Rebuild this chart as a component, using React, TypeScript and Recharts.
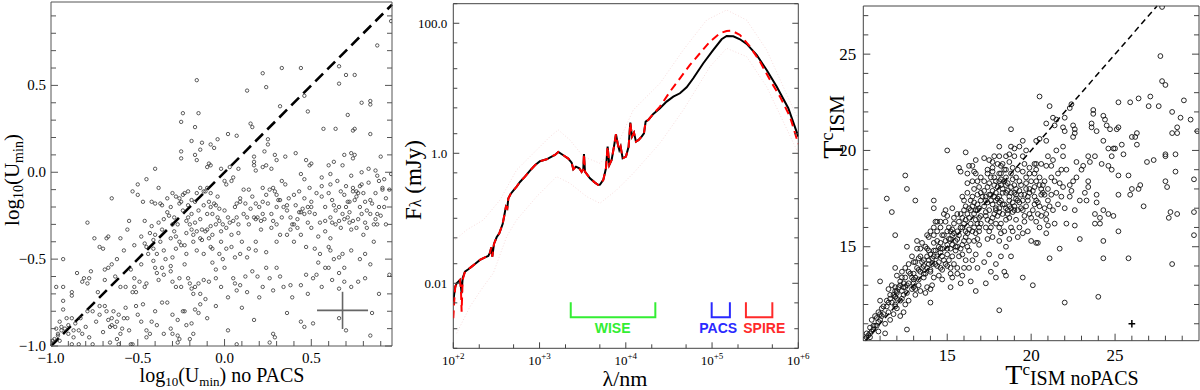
import React from 'react';
import { ScatterChart, ComposedChart, Scatter, XAxis, YAxis, ReferenceLine, ReferenceDot } from 'recharts';

const SERIF = '"Liberation Serif", "Times New Roman", Times, serif';
const SANS = '"Liberation Sans", Arial, Helvetica, sans-serif';

/* ---------------- left panel: log10(Umin) ---------------- */
const uminTicks = [-1, -0.9, -0.8, -0.7, -0.6, -0.5, -0.4, -0.3, -0.2, -0.1, 0, 0.1, 0.2, 0.3, 0.4, 0.5, 0.6, 0.7, 0.8, 0.9];
const uminMajor = [-1, -0.5, 0, 0.5];
const uminDomain = [-1, 0.965];
const uminDomainY = [-1, 0.98];
const uminErr = [0.68, -0.795, 0.147, 0.107];

const uminHigh: [number, number][] = [
  [0.96, 0.87], [0.88, 0.73], [0.84, 0.41], [0.84, 0.39], [0.79, 0.40], [0.66, 0.61], [0.70, 0.56], [0.75, 0.56], [0.66, 0.51],
  [0.44, 0.60], [0.33, 0.60], [0.22, 0.57], [0.24, 0.49], [0.13, 0.47], [-0.16, 0.53], [-0.24, 0.34], [-0.25, 0.29], [-0.15, 0.34],
  [-0.17, 0.26], [0.48, 0.35], [0.46, 0.44], [0.32, 0.38], [0.15, 0.28], [0.16, 0.26], [0.57, 0.25], [0.64, 0.25], [0.71, 0.33],
  [0.75, 0.25], [0.74, 0.24], [0.84, 0.22], [0.90, 0.09], [-0.19, 0.18], [-0.13, 0.17], [-0.08, 0.16], [-0.04, 0.19], [-0.06, 0.14],
  [0.02, 0.22], [0.07, 0.21], [0.17, 0.09], [0.17, 0.06], [0.25, 0.19], [0.25, 0.16], [0.23, 0.12], [0.30, 0.07], [0.29, 0.10],
  [0.35, 0.09], [0.41, 0.11], [-0.25, 0.08], [-0.25, 0.12], [-0.14, 0.13], [-0.17, 0.10], [-0.16, 0.07], [-0.40, 0.02], [-0.09, 0.05],
  [-0.08, 0.04], [-0.10, 0.03], [-0.02, 0.02], [0.03, 0.03], [0.08, 0.02], [0.17, 0.04], [0.18, 0.01], [0.22, 0.03], [0.24, 0.04],
  [0.27, 0.02], [0.47, 0.07], [0.49, 0.04], [0.50, 0.05], [0.60, 0.04], [0.63, 0.06], [0.68, 0.04], [0.69, 0.10], [0.73, 0.11],
  [0.74, 0.08], [0.75, 0.10], [0.79, 0.0], [0.83, 0.02], [0.87, 0.01], [0.96, -0.01],
];

const uminMid: [number, number][] = [
  [-0.45, -0.04], [-0.50, -0.07], [-0.38, -0.09], [-0.65, -0.15], [-0.53, -0.11], [-0.50, -0.13], [-0.47, -0.17], [-0.42, -0.17],
  [-0.40, -0.18], [-0.37, -0.18], [-0.36, -0.19], [-0.30, -0.12], [-0.28, -0.14], [-0.26, -0.15], [-0.24, -0.13], [-0.23, -0.12],
  [-0.25, -0.17], [-0.21, -0.11], [-0.19, -0.16], [-0.17, -0.17], [-0.16, -0.12], [-0.14, -0.09], [-0.12, -0.11], [-0.11, -0.11],
  [-0.10, -0.09], [-0.09, -0.17], [-0.08, -0.12], [-0.06, -0.18], [-0.05, -0.19], [-0.03, -0.21], [0.00, -0.05], [0.01, -0.07],
  [0.04, -0.05], [0.05, -0.03], [0.07, -0.18], [0.09, -0.15], [0.09, -0.17], [0.11, -0.10], [0.14, -0.10], [0.18, -0.18],
  [0.22, -0.09], [0.22, -0.17], [0.24, -0.13], [0.26, -0.10], [0.28, -0.09], [0.29, -0.11], [0.31, -0.16], [0.32, -0.16],
  [0.33, -0.05], [0.35, -0.07], [0.36, -0.19], [0.40, -0.13], [0.43, -0.11], [0.44, -0.01], [0.46, -0.04], [0.49, -0.09],
  [0.50, -0.17], [0.56, -0.03], [0.56, -0.08], [0.61, -0.01], [0.61, -0.07], [0.63, -0.19], [0.67, -0.11], [0.69, -0.13],
  [0.71, -0.17], [0.72, -0.17], [0.73, -0.02], [0.74, -0.11], [0.74, -0.09], [0.76, -0.11], [0.76, -0.14], [0.77, -0.12],
  [0.78, -0.08], [0.79, -0.07], [0.81, -0.17], [0.84, -0.16], [0.88, -0.02], [0.89, -0.05], [0.91, -0.09], [0.91, -0.10],
  [0.93, -0.15], [0.95, -0.10],
  [-0.79, -0.29], [-0.75, -0.38], [-0.68, -0.38], [-0.67, -0.37], [-0.70, -0.44], [-0.72, -0.43], [-0.56, -0.33], [-0.55, -0.28],
  [-0.46, -0.28], [-0.43, -0.35], [-0.41, -0.39], [-0.38, -0.29], [-0.36, -0.33], [-0.40, -0.36], [-0.46, -0.41], [-0.45, -0.43],
  [-0.41, -0.44], [-0.35, -0.45], [-0.33, -0.23], [-0.32, -0.25], [-0.30, -0.30], [-0.29, -0.34], [-0.28, -0.37], [-0.26, -0.40],
  [-0.25, -0.42], [-0.23, -0.42], [-0.22, -0.28], [-0.21, -0.26], [-0.19, -0.33], [-0.18, -0.36], [-0.16, -0.34], [-0.14, -0.38],
  [-0.13, -0.39], [-0.11, -0.34], [-0.10, -0.33], [-0.08, -0.31], [-0.07, -0.24], [-0.04, -0.26], [-0.02, -0.34], [-0.01, -0.30],
  [0.01, -0.32], [0.03, -0.29], [0.05, -0.28], [0.07, -0.26], [0.08, -0.30], [0.11, -0.24], [0.13, -0.26], [0.15, -0.21],
  [0.17, -0.26], [0.18, -0.27], [0.19, -0.26], [0.21, -0.28], [0.22, -0.24], [0.23, -0.27], [0.27, -0.24], [0.28, -0.28],
  [0.30, -0.20], [0.30, -0.30], [0.32, -0.36], [0.36, -0.22], [0.38, -0.26], [0.39, -0.30], [0.40, -0.30], [0.43, -0.23],
  [0.44, -0.23], [0.45, -0.21], [0.46, -0.24], [0.48, -0.29], [0.49, -0.23], [0.50, -0.20], [0.52, -0.24], [0.55, -0.29],
  [0.58, -0.28], [0.58, -0.34], [0.61, -0.26], [0.62, -0.29], [0.64, -0.22], [0.66, -0.28], [0.67, -0.32], [0.69, -0.27],
  [0.71, -0.26], [0.72, -0.29], [0.74, -0.28], [0.76, -0.32], [0.79, -0.24], [0.81, -0.29], [0.82, -0.32], [0.84, -0.24],
  [0.87, -0.27], [0.88, -0.30], [0.88, -0.24], [0.89, -0.20],
  [-0.08, -0.43], [-0.07, -0.44], [-0.03, -0.47], [0.01, -0.44], [0.04, -0.43], [0.06, -0.49], [0.09, -0.47], [0.13, -0.49],
  [0.14, -0.44], [0.18, -0.40], [0.18, -0.45], [0.24, -0.46], [0.30, -0.40], [0.36, -0.36], [0.40, -0.40], [0.42, -0.32],
  [0.47, -0.43], [0.52, -0.44], [0.55, -0.47], [0.60, -0.43], [0.61, -0.45], [0.61, -0.38], [0.66, -0.49], [0.68, -0.47],
  [0.73, -0.45], [0.78, -0.50], [0.81, -0.47],
];

const uminLow: [number, number][] = [
  [-0.93, -0.50], [-0.93, -0.66], [-0.97, -0.66], [-0.88, -0.69], [-0.88, -0.71], [-0.85, -0.58], [-0.82, -0.63], [-0.81, -0.61],
  [-0.79, -0.64], [-0.77, -0.57], [-0.78, -0.61], [-0.73, -0.69], [-0.69, -0.56], [-0.69, -0.62], [-0.67, -0.55], [-0.65, -0.53],
  [-0.63, -0.60], [-0.60, -0.66], [-0.57, -0.66], [-0.54, -0.56], [-0.52, -0.61], [-0.52, -0.66], [-0.49, -0.63], [-0.48, -0.53],
  [-0.46, -0.66], [-0.45, -0.64], [-0.51, -0.69], [-0.53, -0.69], [-0.41, -0.51], [-0.40, -0.55], [-0.39, -0.58], [-0.38, -0.62],
  [-0.36, -0.55], [-0.35, -0.59], [-0.34, -0.50], [-0.31, -0.54], [-0.31, -0.57], [-0.30, -0.63], [-0.28, -0.66], [-0.26, -0.61],
  [-0.25, -0.66], [-0.23, -0.53], [-0.21, -0.61], [-0.20, -0.64], [-0.19, -0.67], [-0.18, -0.70], [-0.17, -0.66], [-0.15, -0.64],
  [-0.14, -0.70], [-0.12, -0.62], [-0.11, -0.73], [-0.09, -0.63], [-0.07, -0.52], [-0.05, -0.61], [-0.01, -0.50], [0.00, -0.55],
  [0.02, -0.72], [0.05, -0.61], [0.06, -0.64], [0.07, -0.68], [0.09, -0.65], [0.13, -0.69], [0.16, -0.57], [0.19, -0.60],
  [0.24, -0.55], [0.26, -0.61], [0.28, -0.68], [0.30, -0.55], [0.34, -0.66], [0.38, -0.65], [0.39, -0.72], [0.44, -0.65],
  [0.47, -0.59], [0.51, -0.61], [0.53, -0.59], [0.56, -0.66], [0.58, -0.55], [0.60, -0.55], [0.66, -0.58], [0.69, -0.63],
  [0.66, -0.67], [0.73, -0.66], [0.77, -0.63], [0.81, -0.61], [0.84, -0.53], [0.89, -0.70], [0.95, -0.59], [0.63, -0.50],
  [0.69, -0.55],
  [-1.0, -0.98], [-0.99, -0.97], [-0.98, -0.96], [-0.96, -0.94], [-0.96, -0.93], [-0.94, -0.91], [-0.94, -0.89], [-0.92, -0.90],
  [-0.95, -0.97], [-0.93, -0.74], [-0.93, -0.79], [-0.91, -0.84], [-0.90, -0.88], [-0.88, -0.84], [-0.87, -0.91], [-0.87, -0.95],
  [-0.84, -0.91], [-0.84, -0.99], [-0.82, -0.93], [-0.78, -0.95], [-0.79, -0.80], [-0.76, -0.80], [-0.76, -0.99], [-0.72, -0.77],
  [-0.72, -0.82], [-0.69, -0.77], [-0.67, -0.85], [-0.66, -0.89], [-0.65, -0.88], [-0.65, -0.84], [-0.64, -0.80], [-0.63, -0.89],
  [-0.62, -0.96], [-0.61, -0.82], [-0.60, -0.93], [-0.59, -0.90], [-0.58, -0.84], [-0.56, -0.84], [-0.55, -0.91], [-0.54, -0.99],
  [-0.53, -0.99], [-0.51, -0.77], [-0.50, -0.82], [-0.47, -0.76], [-0.45, -0.91], [-0.45, -0.95], [-0.43, -0.93], [-0.42, -0.86],
  [-0.39, -0.88], [-0.36, -0.75], [-0.33, -0.75], [-0.31, -0.90], [-0.30, -0.82], [-0.30, -0.93], [-0.27, -0.94], [-0.26, -0.96],
  [-0.24, -0.80], [-0.23, -0.80], [-0.22, -0.88], [-0.18, -0.93], [-0.19, -0.87], [-0.17, -0.79], [-0.15, -0.81], [-0.14, -0.76],
  [0.02, -0.91], [0.07, -0.99], [0.17, -0.85], [0.26, -0.98], [0.28, -0.93], [0.29, -0.95], [0.36, -0.81], [0.44, -0.86],
  [0.46, -0.89], [0.51, -0.87], [0.66, -0.84], [0.70, -0.91], [0.84, -0.94], [0.85, -0.81], [-0.88, -0.99], [-0.66, -0.98],
  [-0.61, -0.99], [-0.27, -0.98],
];

const uminDense: [number, number][] = [
  [-0.33, -0.15], [-0.31, -0.20], [-0.29, -0.26], [-0.27, -0.30], [-0.26, -0.18], [-0.24, -0.22], [-0.22, -0.35], [-0.21, -0.19],
  [-0.20, -0.30], [-0.19, -0.24], [-0.18, -0.40], [-0.17, -0.29], [-0.15, -0.22], [-0.14, -0.27], [-0.13, -0.33], [-0.12, -0.19],
  [-0.10, -0.24], [-0.09, -0.38], [-0.08, -0.20], [-0.07, -0.36], [-0.05, -0.30], [-0.04, -0.14], [-0.03, -0.28], [-0.02, -0.40],
  [0.00, -0.22], [0.02, -0.26], [0.04, -0.36], [0.06, -0.20], [0.08, -0.35], [0.10, -0.40], [-0.28, -0.44], [-0.31, -0.38],
  [-0.35, -0.27], [-0.37, -0.40], [-0.39, -0.47], [-0.42, -0.31], [-0.44, -0.47], [-0.48, -0.37], [-0.52, -0.42], [-0.58, -0.45],
  [-0.60, -0.38], [-0.62, -0.50], [-0.30, -0.49], [-0.22, -0.47], [-0.12, -0.47], [-0.16, -0.45],
  [0.56, -0.14], [0.58, -0.20], [0.60, -0.12], [0.62, -0.16], [0.64, -0.30], [0.65, -0.05], [0.66, -0.20], [0.68, -0.24],
  [0.70, -0.08], [0.70, -0.20], [0.72, -0.23], [0.73, -0.33], [0.75, -0.16], [0.77, -0.27], [0.78, -0.20], [0.80, -0.12],
  [0.80, -0.36], [0.82, -0.22], [0.83, -0.06], [0.85, -0.18], [0.86, -0.30], [0.87, -0.12], [0.90, -0.25], [0.92, -0.20],
  [0.93, -0.30], [0.86, -0.40], [0.92, -0.04],
  [0.12, -0.18], [0.14, -0.30], [0.16, -0.14], [0.20, -0.20], [0.21, -0.33], [0.25, -0.18], [0.27, -0.32], [0.30, -0.13],
  [0.33, -0.26], [0.34, -0.20], [0.37, -0.15], [0.38, -0.33], [0.41, -0.19], [0.42, -0.27], [0.44, -0.36], [0.46, -0.15],
  [0.48, -0.20], [0.50, -0.32], [0.53, -0.12], [0.54, -0.37],
  [-0.97, -0.90], [-0.95, -0.86], [-0.90, -0.93], [-0.86, -0.87], [-0.83, -0.84], [-0.80, -0.89], [-0.74, -0.86], [-0.70, -0.92],
  [-0.68, -0.80], [-0.62, -0.86], [-0.57, -0.78], [-0.48, -0.86], [-0.40, -0.80], [-0.35, -0.93], [-0.27, -0.85], [-0.20, -0.96],
  [-0.10, -0.84], [-0.05, -0.77], [0.10, -0.78], [0.20, -0.72], [-0.05, -0.56], [-0.02, -0.66], [0.12, -0.60], [0.22, -0.66],
  [0.32, -0.60], [0.48, -0.70], [0.54, -0.52], [0.62, -0.62],
];

/* ---------------- middle panel: SED ---------------- */
const lamTicks = [100, 200, 500, 1e3, 2e3, 5e3, 1e4, 2e4, 5e4, 1e5, 2e5, 5e5, 1e6];
const lamMajor = [100, 1e3, 1e4, 1e5, 1e6];
const lamExp = ['+2', '+3', '+4', '+5', '+6'];
const fluxTicks = [0.001, 0.002, 0.005, 0.01, 0.02, 0.05, 0.1, 0.2, 0.5, 1, 2, 5, 10, 20, 50, 100, 200];
const fluxMajor = [0.01, 1, 100];
const fluxLabels = ['0.01', '1.0', '100.0'];

// best fit (black, solid) : [lambda nm, F mJy]
const sedBlack: [number, number][] = [
  [100, 0.005223], [102.7, 0.007017], [105.5, 0.008887], [109.3, 0.01], [114.3, 0.01061], [119.5, 0.01125], [122.7, 0.008887],
  [124.9, 0.007017], [128.3, 0.01194], [136.5, 0.01512], [149.3, 0.01642], [163.2, 0.01805], [178.3, 0.01983], [203.8, 0.02286],
  [232.9, 0.02512], [254.6, 0.02634], [266.2, 0.02963], [275.9, 0.03579], [283.3, 0.02572], [296.2, 0.04028], [318, 0.05101],
  [341.5, 0.05875], [373.3, 0.08178], [386.8, 0.1036], [407.9, 0.1512], [422.7, 0.1425], [434.2, 0.2007], [461.9, 0.2368],
  [496.2, 0.2665], [542.5, 0.307], [592.9, 0.3622], [677.6, 0.4375], [774.3, 0.5412], [885, 0.6535], [1011, 0.7534],
  [1208, 0.8086], [1381, 0.8887], [1509, 0.9427], [1650, 1.048], [1886, 0.9316], [2154, 0.8279], [2355, 0.7186], [2462, 0.5673],
  [2644, 0.6236], [2891, 0.5877], [3075, 0.5162], [3215, 0.5673], [3273, 0.9766], [3362, 0.5224], [3842, 0.4125], [4391, 0.3537],
  [4801, 0.3257], [5018, 0.3296], [5484, 0.3888], [5889, 0.5877], [6157, 1.266], [6437, 0.6613], [6851, 0.7897], [7293, 1.266],
  [7691, 1.96], [8039, 1.425], [8406, 1.125], [8711, 1.266], [9190, 0.8377], [10045, 0.8887], [10786, 1.266], [11277, 2.964],
  [11791, 1.805], [12436, 2.079], [13121, 1.512], [14083, 1.604], [15265, 1.805], [16239, 2.031], [16982, 3.07], [18234, 3.257],
  [20836, 4.029], [24894, 4.924], [29742, 6.236], [35539, 7.442], [42462, 8.377], [50730, 10.36], [60619, 14.25], [79177, 24.25],
  [103400, 38.88], [129170, 56.74], [147630, 63.86], [176370, 63.1], [210770, 56.74], [251770, 48.1], [328850, 32.57],
  [429530, 19.15], [560900, 10.61], [765930, 4.924], [1000000, 1.805],
];

// fit without PACS (red, dashed)
const sedRed: [number, number][] = [
  [100, 0.002893], [102.7, 0.00554], [105.5, 0.008887], [109.3, 0.01], [114.3, 0.01061], [119.5, 0.01125], [122.7, 0.007897],
  [124.9, 0.003664], [128.3, 0.01125], [136.5, 0.01512], [149.3, 0.01642], [163.2, 0.01805], [178.3, 0.01983], [203.8, 0.02286],
  [232.9, 0.02512], [254.6, 0.02634], [266.2, 0.02963], [275.9, 0.03579], [283.3, 0.02572], [296.2, 0.04028], [318, 0.05101],
  [341.5, 0.05875], [373.3, 0.08178], [386.8, 0.1036], [407.9, 0.1512], [422.7, 0.1425], [434.2, 0.2007], [461.9, 0.2368],
  [496.2, 0.2665], [542.5, 0.307], [592.9, 0.3622], [677.6, 0.4375], [774.3, 0.5412], [885, 0.6535], [1011, 0.7534],
  [1208, 0.8086], [1381, 0.8887], [1509, 0.9427], [1650, 1.048], [1886, 0.9316], [2154, 0.8279], [2355, 0.7186], [2462, 0.5673],
  [2644, 0.6236], [2891, 0.5877], [3075, 0.5162], [3215, 0.5673], [3273, 0.9766], [3362, 0.5224], [3842, 0.4125], [4391, 0.3537],
  [4801, 0.3257], [5018, 0.3296], [5484, 0.3888], [5889, 0.5877], [6157, 1.266], [6437, 0.6613], [6851, 0.7897], [7293, 1.266],
  [7691, 1.96], [8039, 1.425], [8406, 1.125], [8711, 1.266], [9190, 0.8377], [10045, 0.8887], [10786, 1.266], [11277, 2.964],
  [11791, 1.805], [12436, 2.079], [13121, 1.512], [14083, 1.604], [15265, 1.805], [16239, 2.031], [16982, 3.07], [18234, 3.257],
  [20836, 4.029], [24894, 5.223], [32517, 8.887], [42462, 14.25], [55463, 22.86], [72444, 34.56], [94585, 52.24], [123550, 70.2],
  [147630, 76.23], [168700, 77.14], [210770, 66.14], [275230, 43.75], [359460, 25.72], [469460, 13.44], [613020, 7.442],
  [800850, 3.665], [1000000, 1.392],
];

const sedUpper: [number, number][] = [
  [104.5, 0.0464], [142.8, 0.0662], [223, 0.0942], [347.5, 0.191], [542, 0.554], [847, 1.0], [1321, 1.8], [1648, 2.29],
  [2253, 1.6], [3215, 0.889], [5012, 0.702], [7834, 1.27], [12210, 4.64], [24890, 11.9], [46430, 38.9], [86500, 112],
  [147600, 160], [251800, 112], [429500, 38.9], [1000000, 3.26],
];
const sedLower: [number, number][] = [
  [109.3, 0.0017], [156, 0.00438], [223, 0.0089], [291, 0.0143], [415, 0.0522], [542, 0.0942], [925, 0.2155], [1577, 0.4375],
  [2253, 0.345], [3516, 0.2155], [5012, 0.17], [7834, 0.273], [12210, 0.492], [24890, 1.43], [46430, 4.64], [94630, 21.5],
  [147600, 41.2], [251800, 30.7], [429500, 10.6], [1000000, 1.0],
];

const bandNames = ['WISE', 'PACS', 'SPIRE'];
const bandLo = [2300, 99000, 247000];
const bandHi = [22000, 161000, 500000];
const bandLabelLam = [7030, 118000, 403000];
const bracketTop = 0.0051;
const bracketBottom = 0.003;
const bandLabelFlux = 0.00208;

/* ---------------- right panel: T ISM ---------------- */
const tTicksX = [11, 12, 13, 14, 15, 16, 17, 18, 19, 20, 21, 22, 23, 24, 25, 26, 27, 28, 29];
const tTicksY = [11, 12, 13, 14, 15, 16, 17, 18, 19, 20, 21, 22, 23, 24, 25, 26, 27];
const tMajor = [15, 20, 25];
const tDomainX = [10, 30];
const tDomainY = [10.12, 27.5];
const tErr = [26, 11, 0.2, 0.2];

const tSparse: [number, number][] = [
  [27.8, 27.45], [21.3, 21.7], [22.0, 21.7], [22.3, 22.2], [22.4, 22.4],
  [27.7, 24.9], [27.8, 23.6], [28.0, 23.4], [27.6, 22.3], [27.1, 22.8], [27.0, 22.3], [26.4, 22.7], [25.9, 22.5], [25.2, 22.5],
  [29.1, 22.6], [28.4, 22.0], [28.9, 21.7], [29.5, 21.6], [28.7, 21.2], [28.4, 20.9], [29.9, 21.0], [28.7, 20.9], [28.0, 19.8],
  [28.0, 19.7], [27.3, 19.5], [26.9, 19.4], [28.6, 19.8], [28.6, 18.9], [28.0, 18.4], [28.1, 18.1], [28.2, 16.5], [28.3, 16.8],
  [28.7, 16.7], [29.7, 18.5], [29.7, 16.8], [29.7, 15.6], [28.4, 14.1], [26.7, 17.1], [26.5, 18.2], [26.4, 18.0], [26.0, 18.0],
  [25.9, 17.7], [25.8, 18.7], [25.2, 18.7], [25.2, 17.7], [25.2, 15.8], [25.8, 14.4], [26.0, 20.7], [26.2, 20.7], [26.3, 20.9],
  [26.3, 20.3], [25.4, 20.3], [25.5, 19.8], [25.2, 21.2], [25.1, 21.1], [25.0, 20.1], [24.9, 20.1], [24.6, 20.1], [24.7, 21.1],
  [24.5, 21.3], [24.3, 21.8], [24.4, 21.6], [23.9, 21.0], [24.3, 20.5], [24.2, 19.3], [24.6, 19.2], [24.8, 19.7], [24.8, 19.0],
  [23.4, 19.7], [23.5, 19.4], [23.8, 19.7], [23.7, 22.1], [23.7, 21.9], [23.6, 21.4], [23.6, 21.2], [22.5, 21.3], [22.6, 21.1],
  [22.6, 20.9], [22.5, 20.7], [21.9, 21.2], [22.0, 21.0], [21.9, 20.2], [21.5, 21.6], [21.4, 21.3], [21.1, 22.3], [20.9, 21.4],
  [20.9, 20.5], [20.5, 22.8], [20.5, 20.6], [20.3, 20.5], [19.7, 20.0], [18.8, 21.1], [19.0, 20.1], [18.1, 20.2], [18.1, 19.7],
  [15.0, 20.0], [16.1, 19.9], [15.7, 19.1], [15.8, 18.9], [16.2, 18.3], [15.9, 17.6], [16.0, 17.4], [14.2, 17.4], [14.2, 17.0],
  [12.5, 18.7], [12.6, 18.0], [13.1, 17.4], [11.4, 17.5], [11.7, 16.8], [14.9, 16.9], [11.9, 15.6], [12.6, 15.0], [13.2, 14.9],
  [11.9, 13.9], [11.0, 13.2], [11.0, 12.2], [12.6, 10.7], [11.3, 10.5], [14.0, 12.1], [14.2, 13.4], [14.1, 13.0], [18.1, 11.7],
  [17.6, 13.7], [17.9, 13.4], [16.4, 13.2], [16.7, 12.7], [17.3, 13.1], [18.4, 13.7], [18.5, 13.5], [19.5, 13.4], [20.1, 13.0],
  [22.0, 12.1], [24.0, 12.4], [24.3, 14.4], [24.3, 15.3], [21.1, 14.4], [21.7, 14.9], [22.9, 15.4], [20.4, 15.2], [20.0, 15.3],
  [21.4, 16.2], [22.1, 16.2], [22.6, 16.1], [22.6, 16.9], [22.9, 17.4], [23.3, 17.4], [23.8, 16.7], [24.1, 16.5], [23.8, 16.2],
  [24.1, 16.2], [24.3, 16.9], [24.6, 16.7], [24.9, 16.6], [23.2, 17.8], [23.4, 18.4], [23.4, 18.1], [23.9, 17.7], [23.9, 17.3],
  [22.3, 17.6], [21.9, 18.1], [22.3, 18.2], [22.5, 18.4], [22.7, 18.6], [23.0, 19.0], [23.1, 19.2], [22.7, 19.4], [22.1, 19.0],
  [21.9, 19.7], [21.5, 20.0], [21.3, 19.5], [21.8, 19.0], [21.6, 18.8], [21.7, 18.3], [21.4, 18.4], [21.5, 17.8], [21.2, 17.7],
  [21.0, 17.4], [21.1, 17.1], [20.8, 17.0], [20.9, 16.4], [20.5, 17.1], [20.3, 17.4], [20.6, 17.7], [20.5, 18.2], [20.8, 18.4],
  [20.9, 19.2], [21.0, 19.7], [20.6, 19.3], [20.3, 19.3], [20.2, 18.8], [19.9, 18.8], [20.0, 18.4], [19.7, 18.0], [19.8, 17.6],
  [20.2, 17.2], [19.9, 16.7], [19.5, 16.9], [19.2, 17.4], [19.1, 17.7], [18.8, 18.1], [18.5, 18.2], [18.3, 17.8], [18.1, 17.6],
  [18.0, 18.1], [18.1, 18.8], [17.7, 18.9], [17.5, 19.5], [17.7, 19.4], [17.2, 19.6], [16.7, 18.8], [16.5, 18.4], [17.2, 18.4],
  [17.4, 18.1], [17.0, 17.8], [16.8, 17.2], [17.2, 17.1], [17.5, 16.9], [17.7, 17.2], [17.8, 16.7], [18.1, 17.0], [18.4, 17.2],
  [18.6, 16.7], [18.9, 16.8], [19.1, 16.4], [18.8, 16.0], [18.4, 15.8], [18.1, 16.0], [17.9, 16.2], [17.6, 16.3], [17.3, 16.0],
  [16.9, 15.8], [16.7, 15.7], [16.6, 15.3], [16.9, 15.1], [17.4, 15.4], [17.7, 15.5], [18.1, 15.3], [18.5, 15.0], [18.8, 14.5],
  [18.7, 15.4], [19.2, 15.5], [19.5, 15.7], [19.8, 15.8], [20.3, 15.2], [18.2, 14.5], [17.9, 14.1], [17.5, 14.6], [17.2, 14.2],
  [16.7, 14.6], [16.5, 14.3], [16.3, 13.9], [16.8, 13.9], [15.9, 13.5], [16.1, 14.3], [15.9, 14.6], [15.6, 13.9], [15.3, 13.4],
];

const tBand: [number, number][] = [
  [10.1, 10.2], [10.2, 10.3], [10.3, 10.4], [10.4, 10.5], [10.5, 10.6], [10.6, 10.7], [10.5, 11.2], [10.8, 10.9], [10.9, 11.1],
  [11.0, 11.2], [11.1, 11.4], [11.0, 11.5], [11.2, 11.5], [10.9, 10.6], [10.8, 11.3], [11.4, 11.9], [11.5, 12.1], [11.6, 12.3],
  [11.7, 12.1], [11.6, 12.5], [11.8, 12.5], [11.9, 12.4], [12.0, 12.6], [12.0, 12.7], [12.0, 12.3], [11.9, 11.9], [12.4, 11.6],
  [12.2, 12.2], [12.3, 12.7], [12.5, 12.9], [12.4, 13.1], [12.6, 13.0], [12.2, 13.2], [12.3, 13.4], [12.5, 13.4], [12.7, 13.1],
  [12.9, 13.4], [13.0, 13.6], [13.0, 13.1], [13.0, 12.9], [13.1, 12.8], [13.3, 13.0], [13.2, 13.9], [13.1, 14.2], [13.3, 13.8],
  [13.5, 13.9], [13.4, 13.7], [13.6, 13.4], [13.7, 13.6], [13.8, 13.9], [13.6, 14.3], [13.4, 14.5], [13.8, 14.5], [13.9, 14.3],
  [14.0, 13.8], [14.0, 13.7], [14.1, 14.1], [14.2, 14.5], [14.0, 14.6], [14.3, 14.8], [14.4, 14.5], [14.5, 14.2], [14.6, 13.9],
  [14.7, 13.8], [14.9, 14.1], [14.7, 14.5], [14.6, 14.7], [14.7, 14.9], [15.0, 14.6], [15.1, 14.3], [15.2, 13.9], [15.3, 14.5],
  [15.2, 14.9], [15.3, 15.1], [15.5, 14.8], [15.7, 14.5], [15.6, 15.0], [15.8, 14.9], [15.9, 15.1], [15.5, 15.3], [15.2, 15.4],
  [14.9, 15.3], [14.6, 15.2], [14.4, 15.3], [14.2, 15.6], [13.9, 15.5], [13.8, 14.9], [14.4, 15.8], [14.6, 16.0], [14.9, 16.3],
  [14.6, 16.3], [14.4, 16.3], [15.0, 15.8], [15.2, 15.8], [15.4, 15.7], [15.6, 15.8], [15.4, 16.2], [15.7, 16.3], [15.9, 16.0],
  [16.1, 15.8], [16.1, 15.5], [16.3, 15.3], [16.0, 15.3], [16.2, 15.0], [15.6, 16.7], [15.9, 16.5], [16.1, 16.4], [16.2, 16.7],
  [16.3, 16.5], [16.4, 16.2], [16.5, 15.8], [16.3, 17.0], [16.5, 17.1], [16.6, 16.7], [16.7, 16.4], [16.9, 16.5], [17.0, 17.4],
  [17.3, 17.6], [16.8, 17.7], [16.6, 18.0], [16.9, 18.1], [17.3, 17.4], [17.5, 17.7], [17.6, 17.4], [17.8, 17.6], [17.9, 17.4],
  [17.7, 17.9], [17.9, 18.4], [18.1, 18.4], [18.2, 18.2], [18.5, 17.8], [18.7, 17.6], [18.7, 17.4], [18.9, 17.3], [18.7, 17.1],
  [18.5, 17.0], [18.2, 17.4], [18.1, 17.3], [18.3, 16.7], [18.7, 16.5], [19.0, 17.1], [19.1, 17.5], [19.3, 17.9], [19.3, 18.4],
  [19.1, 18.6], [18.8, 18.8], [18.5, 18.6], [18.4, 19.0], [18.2, 19.2], [18.0, 19.3], [17.8, 19.7], [18.5, 19.7], [18.7, 19.4],
  [18.9, 19.1], [19.0, 19.7], [19.5, 19.7], [19.6, 19.3], [19.5, 18.9], [19.7, 18.6], [19.9, 19.1], [20.2, 19.3], [20.3, 19.0],
  [20.5, 18.6], [20.7, 18.2], [20.7, 17.8], [20.4, 16.7], [20.6, 16.6], [20.9, 16.7], [19.5, 17.4], [19.7, 17.1], [19.4, 17.0],
  [19.9, 17.8], [20.2, 18.1], [20.3, 18.4], [19.5, 20.5], [19.3, 20.2], [18.8, 20.2], [18.7, 19.8], [18.3, 19.3], [17.7, 19.1],
  [17.4, 19.0], [18.2, 18.8], [16.7, 19.5], [16.3, 19.2], [16.6, 18.9], [16.2, 18.8], [16.5, 19.2], [17.6, 18.6], [17.8, 18.6],
  [13.4, 12.7], [13.8, 12.9], [14.0, 12.8], [13.7, 12.6], [12.7, 12.2], [12.2, 11.4], [11.8, 11.5], [11.6, 11.2], [12.0, 11.8],
  [15.2, 12.9], [15.6, 13.6], [15.8, 13.1], [16.0, 13.9], [15.2, 13.6], [14.7, 13.3],
  [13.2, 15.3], [12.7, 14.1], [12.5, 13.9], [12.0, 13.5], [11.7, 13.0], [11.9, 12.9], [12.3, 13.7], [13.8, 15.6], [14.0, 15.8],
  [14.2, 16.0], [14.3, 16.3],
];

const tCore: [number, number][] = [
  [17.0, 16.2], [17.3, 16.6], [17.6, 16.0], [17.9, 16.9], [18.2, 16.2], [18.5, 16.4], [18.8, 17.8], [19.2, 16.9], [19.6, 16.3],
  [17.2, 17.9], [17.5, 18.3], [17.9, 17.0], [18.3, 18.0], [18.6, 18.3], [19.0, 18.2], [19.4, 17.7], [16.8, 16.9], [16.4, 17.4],
  [16.0, 16.9], [15.8, 16.0], [16.6, 16.0], [16.9, 17.0], [15.3, 15.6], [15.0, 15.1], [14.8, 14.3], [14.3, 14.1], [13.9, 14.1],
  [13.6, 13.6], [13.3, 13.3], [12.9, 12.8], [12.6, 12.6], [12.3, 12.3], [11.9, 12.0], [11.5, 11.6], [11.3, 11.0], [10.7, 10.9],
  [10.4, 10.8], [10.2, 10.5], [11.1, 11.8], [11.9, 12.7], [12.4, 12.5], [13.0, 13.3], [13.5, 14.2], [14.1, 14.4], [14.6, 14.9],
  [15.1, 15.4], [15.6, 15.4], [16.3, 15.9], [16.8, 16.2], [17.4, 16.4], [18.0, 16.6], [18.6, 16.9], [19.0, 16.9], [19.8, 17.4],
  [20.2, 17.6], [20.0, 16.5], [19.3, 16.0], [18.9, 15.8], [20.5, 16.0], [20.9, 15.7],
  [12.1, 12.9], [12.4, 12.9], [12.8, 13.6], [13.1, 13.4], [13.3, 14.4], [13.6, 14.0], [13.9, 14.8], [14.2, 14.8], [14.4, 14.0],
  [14.5, 15.0], [14.8, 15.6], [15.0, 14.9], [15.1, 16.0], [15.3, 15.9], [15.5, 15.0], [15.7, 15.6], [15.8, 16.7], [16.0, 16.2],
  [16.2, 15.7], [16.4, 16.9], [16.6, 17.3], [16.7, 16.9], [17.0, 16.6], [17.1, 17.6], [17.3, 16.8], [17.4, 17.3], [17.6, 17.7],
  [17.7, 16.5], [17.9, 17.8], [18.0, 17.5], [18.1, 16.8], [18.3, 17.2], [18.4, 18.4], [18.6, 17.9], [18.8, 17.0], [19.0, 17.8],
  [19.1, 18.0], [19.3, 17.3], [19.4, 18.2], [19.6, 17.7], [19.7, 18.3], [19.9, 18.0], [20.1, 17.9], [20.1, 16.9], [20.4, 17.3],
  [20.6, 18.0], [20.8, 17.7], [21.0, 18.0], [21.2, 18.6], [21.3, 16.9], [16.2, 17.8], [16.5, 17.6], [16.8, 18.4], [17.0, 18.6],
  [17.4, 18.8], [17.8, 18.2], [18.2, 18.5], [18.5, 19.0], [18.9, 18.5], [19.2, 19.0], [15.4, 16.5], [15.0, 16.6], [14.7, 15.6],
  [14.2, 15.2], [13.7, 15.0], [13.4, 14.9], [13.0, 14.2], [12.7, 13.7], [12.2, 13.0], [11.9, 12.4], [11.4, 12.2], [11.2, 11.9],
  [10.9, 11.6], [10.7, 11.4], [10.6, 10.9], [10.4, 10.3], [11.5, 12.8], [12.9, 14.5], [13.5, 15.2], [14.8, 16.7], [15.3, 17.0],
  [16.1, 17.1], [16.9, 16.0], [17.5, 15.8], [18.2, 15.7], [16.3, 14.8], [16.8, 15.4], [15.4, 14.1], [14.5, 13.5], [15.0, 14.0],
  [13.1, 12.5], [12.5, 12.0], [19.6, 16.6], [20.3, 16.3], [21.0, 16.1], [21.6, 17.2], [22.0, 17.0], [22.4, 17.9], [21.8, 17.6],
  [21.2, 19.2],
];

/* ---------------- helpers ---------------- */
type Side = 'bottom' | 'top' | 'left' | 'right';
interface TickOpts {
  side: Side;
  pos: number; // fixed pixel position of the axis line inside the chart svg
  majors: number[];
  major: number;
  minor: number;
  color: string;
  label?: (v: number) => React.ReactNode;
  fontSize?: number;
  gap?: number;
}
const isIn = (v: number, arr: number[]) => arr.some((m) => Math.abs(m - v) <= 1e-6 * Math.max(1, Math.abs(m)));

function makeTick(o: TickOpts) {
  return (p: any) => {
    const v = Number(p.payload?.value);
    const horiz = o.side === 'bottom' || o.side === 'top';
    const x = horiz ? Number(p.x) : o.pos;
    const y = horiz ? o.pos : Number(p.y);
    const maj = isIn(v, o.majors);
    const L = maj ? o.major : o.minor;
    let x2 = x;
    let y2 = y;
    if (o.side === 'bottom') y2 = y - L;
    else if (o.side === 'top') y2 = y + L;
    else if (o.side === 'left') x2 = x + L;
    else x2 = x - L;
    let txt: React.ReactNode = null;
    if (maj && o.label) {
      if (o.side === 'bottom') {
        txt = (
          <text x={x} y={y + (o.gap ?? 16)} textAnchor="middle" fontFamily={SERIF} fontSize={o.fontSize} fill="#000">
            {o.label(v)}
          </text>
        );
      } else if (o.side === 'left') {
        txt = (
          <text x={x - (o.gap ?? 6)} y={y} textAnchor="end" dominantBaseline="central" fontFamily={SERIF} fontSize={o.fontSize} fill="#000">
            {o.label(v)}
          </text>
        );
      }
    }
    return (
      <g>
        <line x1={x} y1={y} x2={x2} y2={y2} stroke={o.color} strokeWidth={1} />
        {txt}
      </g>
    );
  };
}

const toXY = (arr: [number, number][]) => arr.map(([x, y]) => ({ x, y }));
const toLF = (arr: [number, number][]) => arr.map(([lam, f]) => ({ lam, f }));
const fmtSigned = (v: number) => (v < 0 ? '\u2212' : '') + Math.abs(v).toFixed(1);

/* ---------------- panels ---------------- */
function LeftPanel() {
  const c = '#555';
  const data = toXY([...uminHigh, ...uminMid, ...uminLow, ...uminDense]);
  const [ex, ey, edx, edy] = uminErr;
  const L = 51, R = 392, T = 2, B = 346;
  return (
    <ScatterChart width={400} height={390} margin={{ top: T - 1, right: 400 - R - 1, bottom: 390 - B - 1, left: L - 1 }}>
      <XAxis type="number" dataKey="x" domain={uminDomain} allowDataOverflow ticks={uminTicks} interval={0} tickSize={0} tickMargin={0}
        height={1} axisLine={{ stroke: c }} tickLine={false}
        tick={makeTick({ side: 'bottom', pos: B, majors: uminMajor, major: 7, minor: 5, color: c, label: fmtSigned, fontSize: 15, gap: 17 })}
        label={() => (
          <text x={222} y={382} textAnchor="middle" fontFamily={SERIF} fontSize={20} fill="#000">
            log<tspan fontSize={13} dy={4}>10</tspan><tspan dy={-4}>(U</tspan><tspan fontSize={13} dy={4}>min</tspan><tspan dy={-4}>) no PACS</tspan>
          </text>
        )}
      />
      <XAxis xAxisId="top" orientation="top" type="number" domain={uminDomain} allowDataOverflow ticks={uminTicks} interval={0}
        tickSize={0} tickMargin={0} height={1} axisLine={{ stroke: c }} tickLine={false}
        tick={makeTick({ side: 'top', pos: T, majors: uminMajor, major: 7, minor: 5, color: c })} />
      <YAxis type="number" dataKey="y" domain={uminDomainY} allowDataOverflow ticks={uminTicks} interval={0} tickSize={0} tickMargin={0}
        width={1} axisLine={{ stroke: c }} tickLine={false}
        tick={makeTick({ side: 'left', pos: L, majors: uminMajor, major: 7, minor: 5, color: c, label: fmtSigned, fontSize: 15, gap: 5 })}
        label={() => (
          <text x={19} y={180} transform="rotate(-90, 19, 180)" textAnchor="middle" fontFamily={SERIF} fontSize={21} fill="#000">
            log<tspan fontSize={14} dy={4}>10</tspan><tspan dy={-4}>(U</tspan><tspan fontSize={14} dy={4}>min</tspan><tspan dy={-4}>)</tspan>
          </text>
        )}
      />
      <YAxis yAxisId="right" orientation="right" type="number" domain={uminDomainY} allowDataOverflow ticks={uminTicks} interval={0}
        tickSize={0} tickMargin={0} width={1} axisLine={{ stroke: c }} tickLine={false}
        tick={makeTick({ side: 'right', pos: R, majors: uminMajor, major: 7, minor: 5, color: c })} />
      <Scatter data={data} isAnimationActive={false}
        shape={(p: any) => <circle cx={p.cx} cy={p.cy} r={1.7} fill="none" stroke="#333" strokeWidth={0.8} />} />
      <ReferenceLine segment={[{ x: -1, y: -1 }, { x: 0.965, y: 0.965 }]} stroke="#000" strokeWidth={2.6} strokeDasharray="11 6" ifOverflow="visible" />
      <ReferenceLine segment={[{ x: ex - edx, y: ey }, { x: ex + edx, y: ey }]} stroke="#666" strokeWidth={1.6} ifOverflow="visible" />
      <ReferenceLine segment={[{ x: ex, y: ey - edy }, { x: ex, y: ey + edy }]} stroke="#666" strokeWidth={1.6} ifOverflow="visible" />
    </ScatterChart>
  );
}

function MiddlePanel() {
  const c = '#444';
  const bandColors = ['#33ee33', '#2a2aff', '#ff2a2a'];
  const L = 53.3, R = 398.3, T = 3.7, B = 348.3;
  const lamLabel = (v: number) => {
    const i = lamMajor.findIndex((m) => Math.abs(m - v) < 1e-6 * m);
    return (
      <>
        10<tspan fontSize={9} dy={-6}>{lamExp[i]}</tspan>
      </>
    );
  };
  const fluxLabel = (v: number) => fluxLabels[fluxMajor.findIndex((m) => Math.abs(m - v) < 1e-6 * m)];
  const lineOnly = () => <g />;
  return (
    <ComposedChart width={410} height={390} margin={{ top: T - 1, right: 410 - R - 1, bottom: 390 - B - 1, left: L - 1 }}>
      <XAxis type="number" dataKey="lam" scale="log" domain={[100, 1e6]} allowDataOverflow ticks={lamTicks} interval={0} tickSize={0}
        tickMargin={0} height={1} axisLine={{ stroke: c }} tickLine={false}
        tick={makeTick({ side: 'bottom', pos: B, majors: lamMajor, major: 6, minor: 4, color: c, label: lamLabel, fontSize: 13, gap: 17 })}
        label={() => (
          <text x={225} y={386} textAnchor="middle" fontFamily={SERIF} fontSize={22} fill="#000">λ/nm</text>
        )}
      />
      <XAxis xAxisId="top" orientation="top" type="number" scale="log" domain={[100, 1e6]} allowDataOverflow ticks={lamTicks} interval={0}
        tickSize={0} tickMargin={0} height={1} axisLine={{ stroke: c }} tickLine={false}
        tick={makeTick({ side: 'top', pos: T, majors: lamMajor, major: 6, minor: 4, color: c })} />
      <YAxis type="number" dataKey="f" scale="log" domain={[0.001, 200]} allowDataOverflow ticks={fluxTicks} interval={0} tickSize={0}
        tickMargin={0} width={1} axisLine={{ stroke: c }} tickLine={false}
        tick={makeTick({ side: 'left', pos: L, majors: fluxMajor, major: 6, minor: 4, color: c, label: fluxLabel, fontSize: 13, gap: 6 })}
        label={() => (
          <text x={21} y={180} transform="rotate(-90, 21, 180)" textAnchor="middle" fontFamily={SERIF} fontSize={23} fill="#000">
            F<tspan fontSize={16}>λ</tspan> (mJy)
          </text>
        )}
      />
      <YAxis yAxisId="right" orientation="right" type="number" scale="log" domain={[0.001, 200]} allowDataOverflow ticks={fluxTicks}
        interval={0} tickSize={0} tickMargin={0} width={1} axisLine={{ stroke: c }} tickLine={false}
        tick={makeTick({ side: 'right', pos: R, majors: fluxMajor, major: 6, minor: 4, color: c })} />
      <Scatter data={toLF(sedUpper)} shape={lineOnly} isAnimationActive={false}
        line={{ stroke: '#f6dcdc', strokeWidth: 1, strokeDasharray: '1 2' }} />
      <Scatter data={toLF(sedLower)} shape={lineOnly} isAnimationActive={false}
        line={{ stroke: '#f6dcdc', strokeWidth: 1, strokeDasharray: '1 2' }} />
      <Scatter data={toLF(sedBlack)} shape={lineOnly} isAnimationActive={false}
        line={{ stroke: '#000', strokeWidth: 2 }} />
      <Scatter data={toLF(sedRed)} shape={lineOnly} isAnimationActive={false}
        line={{ stroke: '#ff0000', strokeWidth: 2, strokeDasharray: '8 5' }} />
      {bandNames.map((n, i) => (
        <Scatter key={n} isAnimationActive={false} shape={lineOnly}
          data={[
            { lam: bandLo[i], f: bracketTop },
            { lam: bandLo[i], f: bracketBottom },
            { lam: bandHi[i], f: bracketBottom },
            { lam: bandHi[i], f: bracketTop },
          ]}
          line={{ stroke: bandColors[i], strokeWidth: 2 }} />
      ))}
      {bandNames.map((n, i) => (
        <ReferenceDot key={'t' + n} x={bandLabelLam[i]} y={bandLabelFlux} r={0} ifOverflow="visible"
          shape={(p: any) => (
            <text x={p.cx} y={p.cy} textAnchor="middle" dominantBaseline="central" fontFamily={SANS} fontWeight="bold" fontSize={14}
              fill={bandColors[i]}>{n}</text>
          )} />
      ))}
    </ComposedChart>
  );
}

function RightPanel() {
  const c = '#444';
  const data = toXY([...tSparse, ...tBand, ...tCore]);
  const [ex, ey, edx, edy] = tErr;
  const lbl = (v: number) => String(v);
  const L = 53.3, R = 389, T = 6, B = 340.7;
  return (
    <ScatterChart width={390} height={390} margin={{ top: T - 1, right: 390 - R - 1, bottom: 390 - B - 1, left: L - 1 }}>
      <XAxis type="number" dataKey="x" domain={tDomainX} allowDataOverflow ticks={tTicksX} interval={0} tickSize={0} tickMargin={0}
        height={1} axisLine={{ stroke: c }} tickLine={false}
        tick={makeTick({ side: 'bottom', pos: B, majors: tMajor, major: 7, minor: 5, color: c, label: lbl, fontSize: 17, gap: 20 })}
        label={() => (
          <text x={262} y={384} textAnchor="middle" fontFamily={SERIF} fontSize={28} fill="#000">
            T<tspan fontSize={17} dy={-9}>c</tspan><tspan fontSize={20} dy={10}>ISM noPACS</tspan>
          </text>
        )}
      />
      <XAxis xAxisId="top" orientation="top" type="number" domain={tDomainX} allowDataOverflow ticks={tTicksX} interval={0}
        tickSize={0} tickMargin={0} height={1} axisLine={{ stroke: c }} tickLine={false}
        tick={makeTick({ side: 'top', pos: T, majors: tMajor, major: 7, minor: 5, color: c })} />
      <YAxis type="number" dataKey="y" domain={tDomainY} allowDataOverflow ticks={tTicksY} interval={0} tickSize={0} tickMargin={0}
        width={1} axisLine={{ stroke: c }} tickLine={false}
        tick={makeTick({ side: 'left', pos: L, majors: tMajor, major: 7, minor: 5, color: c, label: lbl, fontSize: 17, gap: 7 })}
        label={() => (
          <text x={33} y={127} transform="rotate(-90, 33, 127)" textAnchor="middle" fontFamily={SERIF} fontSize={30} fill="#000">
            T<tspan fontSize={18} dy={-10}>c</tspan><tspan fontSize={21} dy={11}>ISM</tspan>
          </text>
        )}
      />
      <YAxis yAxisId="right" orientation="right" type="number" domain={tDomainY} allowDataOverflow ticks={tTicksY} interval={0}
        tickSize={0} tickMargin={0} width={1} axisLine={{ stroke: c }} tickLine={false}
        tick={makeTick({ side: 'right', pos: R, majors: tMajor, major: 7, minor: 5, color: c })} />
      <Scatter data={data} isAnimationActive={false}
        shape={(p: any) => <circle cx={p.cx} cy={p.cy} r={2.4} fill="none" stroke="#111" strokeWidth={0.9} />} />
      <ReferenceLine segment={[{ x: 10.12, y: 10.12 }, { x: 27.5, y: 27.5 }]} stroke="#000" strokeWidth={1.5} strokeDasharray="6 4" ifOverflow="visible" />
      <ReferenceLine segment={[{ x: ex - edx, y: ey }, { x: ex + edx, y: ey }]} stroke="#000" strokeWidth={1.5} ifOverflow="visible" />
      <ReferenceLine segment={[{ x: ex, y: ey - edy }, { x: ex, y: ey + edy }]} stroke="#000" strokeWidth={1.5} ifOverflow="visible" />
    </ScatterChart>
  );
}

export default function App() {
  return (
    <div style={{ position: 'absolute', left: 0, top: 0, width: 1200, height: 390, overflow: 'hidden', background: '#fff' }}>
      <div style={{ position: 'absolute', left: 0, top: 0 }}>
        <LeftPanel />
      </div>
      <div style={{ position: 'absolute', left: 400, top: 0 }}>
        <MiddlePanel />
      </div>
      <div style={{ position: 'absolute', left: 810, top: 0 }}>
        <RightPanel />
      </div>
    </div>
  );
}
